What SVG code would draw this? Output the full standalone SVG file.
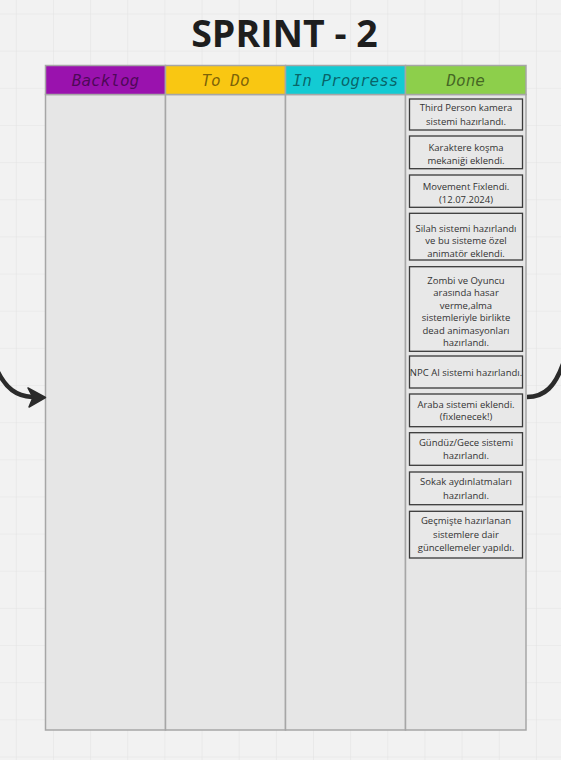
<svg xmlns="http://www.w3.org/2000/svg" width="561" height="760" viewBox="0 0 561 760">
  <style>
    .title { font-family: "Open Sans", "Noto Sans", sans-serif; font-weight: 700; font-size: 37.5px; fill: #1e1e1e; text-anchor: middle; }
    .hdr { font-family: "DejaVu Sans Mono", "Liberation Mono", monospace; font-style: italic; font-size: 16px; fill: #000; fill-opacity: 0.52; text-anchor: middle; }
    .colbody { fill: #e6e6e6; stroke: #a6a6a6; stroke-width: 1.5; }
    .colhead { stroke: #a6a6a6; stroke-width: 1.5; }
    .card rect { fill: #e8e8e8; stroke: #3a3a3a; stroke-width: 1.3; }
    .card text { font-family: "Open Sans", "Noto Sans", sans-serif; font-size: 9.5px; fill: #333; text-anchor: middle; }
    .conn { fill: none; stroke: #2b2b2b; stroke-width: 4.5; stroke-linecap: round; }
  </style>
  <defs>
    <pattern id="grid" x="15.8" y="13.5" width="37.15" height="37.15" patternUnits="userSpaceOnUse">
      <path d="M0 0 H37.15 M0 0 V37.15" fill="none" stroke="#e3e3e3" stroke-width="1.2"/>
    </pattern>
  </defs>
  <rect width="561" height="760" fill="#f2f2f2"/>
  <rect width="561" height="760" fill="url(#grid)"/>

  <g id="title"><text class="title" x="284.5" y="46.5">SPRINT - 2</text></g>

  <g id="col-backlog">
    <rect class="colbody" x="45.5" y="94.5" width="120" height="635.5"/>
    <rect class="colhead" x="45.5" y="65.5" width="120" height="29" fill="#9a12ae"/>
    <text class="hdr" x="105.5" y="86">Backlog</text>
  </g>
  <g id="col-todo">
    <rect class="colbody" x="165.5" y="94.5" width="120" height="635.5"/>
    <rect class="colhead" x="165.5" y="65.5" width="120" height="29" fill="#f9c712"/>
    <text class="hdr" x="225.5" y="86">To Do</text>
  </g>
  <g id="col-inprogress">
    <rect class="colbody" x="285.5" y="94.5" width="120" height="635.5"/>
    <rect class="colhead" x="285.5" y="65.5" width="120" height="29" fill="#13cbd3"/>
    <text class="hdr" x="345.5" y="86">In Progress</text>
  </g>
  <g id="col-done">
    <rect class="colbody" x="405.5" y="94.5" width="120.5" height="635.5"/>
    <rect class="colhead" x="405.5" y="65.5" width="120.5" height="29" fill="#8dcf4b"/>
    <text class="hdr" x="465.7" y="86">Done</text>
  </g>

  <g id="card1" class="card">
    <rect x="409.5" y="99" width="113" height="31"/>
    <text x="466" y="110.8">Third Person kamera</text>
    <text x="466" y="125.3">sistemi hazırlandı.</text>
  </g>
  <g id="card2" class="card">
    <rect x="409.5" y="136" width="113" height="32.7"/>
    <text x="466" y="150.8">Karaktere koşma</text>
    <text x="466" y="163.5">mekaniği eklendi.</text>
  </g>
  <g id="card3" class="card">
    <rect x="409.5" y="175" width="113" height="32.3"/>
    <text x="466" y="190.2">Movement Fixlendi.</text>
    <text x="466" y="202.8">(12.07.2024)</text>
  </g>
  <g id="card4" class="card">
    <rect x="409.5" y="213.3" width="113" height="46.7"/>
    <text x="466" y="231.5">Silah sistemi hazırlandı</text>
    <text x="466" y="244.2">ve bu sisteme özel</text>
    <text x="466" y="256.9">animatör eklendi.</text>
  </g>
  <g id="card5" class="card">
    <rect x="409.5" y="266.7" width="113" height="84.6"/>
    <text x="466" y="283.5">Zombi ve Oyuncu</text>
    <text x="466" y="296">arasında hasar</text>
    <text x="466" y="308.5">verme,alma</text>
    <text x="466" y="321">sistemleriyle birlikte</text>
    <text x="466" y="333.5">dead animasyonları</text>
    <text x="466" y="346">hazırlandı.</text>
  </g>
  <g id="card6" class="card">
    <rect x="409.5" y="356" width="113" height="32"/>
    <text x="466" y="375.6">NPC AI sistemi hazırlandı.</text>
  </g>
  <g id="card7" class="card">
    <rect x="409.5" y="394" width="113" height="32.7"/>
    <text x="466" y="407.5">Araba sistemi eklendi.</text>
    <text x="466" y="420.3">(fixlenecek!)</text>
  </g>
  <g id="card8" class="card">
    <rect x="409.5" y="432.7" width="113" height="32.6"/>
    <text x="466" y="446.2">Gündüz/Gece sistemi</text>
    <text x="466" y="458.7">hazırlandı.</text>
  </g>
  <g id="card9" class="card">
    <rect x="409.5" y="472" width="113" height="32.7"/>
    <text x="466" y="485.2">Sokak aydınlatmaları</text>
    <text x="466" y="498.5">hazırlandı.</text>
  </g>
  <g id="card10" class="card">
    <rect x="409.5" y="511.3" width="113" height="46.7"/>
    <text x="466" y="524.2">Geçmişte hazırlanan</text>
    <text x="466" y="537.5">sistemlere dair</text>
    <text x="466" y="550.8">güncellemeler yapıldı.</text>
  </g>

  <g id="connectors">
    <path class="conn" d="M -2 372 C 6 388 16 396 32 397"/>
    <path d="M 28 388 L 45.5 397.5 L 29 407 L 33 397.5 Z" fill="#2b2b2b" stroke="#2b2b2b" stroke-width="1.5" stroke-linejoin="round"/>
    <path class="conn" d="M 527 397 C 545 397 555 386 563 364" style="stroke-linecap:butt"/>
  </g>
</svg>
